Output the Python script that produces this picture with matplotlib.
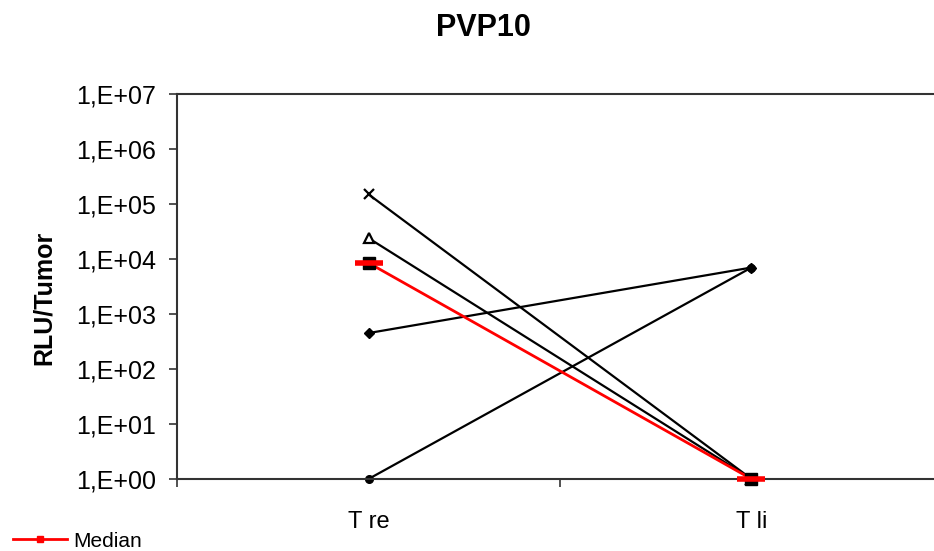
import matplotlib
matplotlib.use("Agg")
import matplotlib.pyplot as plt
from matplotlib.lines import Line2D

plt.rcParams['font.family'] = ['Liberation Sans', 'DejaVu Sans']

# Datos: RLU por tumor en las dos posiciones
categories = ["T re", "T li"]
cat_pos = [0.5, 1.5]
series_cross = [1.5e5, 1.0]
series_triangle = [2.4e4, 1.0]
series_diamond = [450, 7.0e3]
series_circle = [1.0, 7.0e3]
median = [8.5e3, 1.0]
ytick_vals = [1e0, 1e1, 1e2, 1e3, 1e4, 1e5, 1e6, 1e7]
ytick_labels = ["1,E+00", "1,E+01", "1,E+02", "1,E+03", "1,E+04", "1,E+05", "1,E+06", "1,E+07"]

fig = plt.figure(figsize=(9.34, 5.51), dpi=100)
W, H = 934.0, 551.0
left, right, top, bottom = 177, 943, 94, 479
ax = fig.add_axes([left / W, 1 - bottom / H, (right - left) / W, (bottom - top) / H])

ax.plot(cat_pos, series_cross, color='black', lw=1.6, marker='x', ms=7, mew=1.6, clip_on=False)
ax.plot(cat_pos, series_triangle, color='black', lw=1.6, marker='^', ms=7,
        mfc='white', mec='black', mew=1.6, clip_on=False)
ax.plot(cat_pos, series_diamond, color='black', lw=1.6, marker='D', ms=5, clip_on=False)
ax.plot(cat_pos, series_circle, color='black', lw=1.6, marker='o', ms=5.5, clip_on=False)
ax.plot(cat_pos, median, color='red', lw=2, marker='s', ms=9, mfc='black', mec='black',
        zorder=4, clip_on=False)
ax.plot(cat_pos, median, linestyle='none', marker='_', ms=20, mew=4, color='red', zorder=5,
        clip_on=False)

ax.set_yscale('log')
ax.set_ylim(1, 1e7)
ax.set_xlim(0, 2)
ax.set_yticks(ytick_vals)
ax.set_yticklabels(ytick_labels)
ax.minorticks_off()
ax.tick_params(axis='y', direction='out', length=6, width=1.2, pad=9, labelsize=18,
               colors='#333333', labelcolor='black')

# ticks between categories, labels at category centres
ax.set_xticks([0, 1, 2])
ax.set_xticklabels([])
ax.set_xticks(cat_pos, minor=True)
ax.set_xticklabels(categories, minor=True)
ax.tick_params(axis='x', which='major', direction='out', length=6, width=1.2, colors='#333333')
ax.tick_params(axis='x', which='minor', length=0, pad=23, labelsize=17)

for s in ['left', 'bottom', 'top']:
    ax.spines[s].set_color('#333333')
    ax.spines[s].set_linewidth(1.5)
ax.spines['right'].set_visible(False)

ax.set_ylabel("RLU/Tumor", fontsize=18, fontweight='bold')
ax.yaxis.set_label_coords(-0.158, 0.47)

fig.suptitle("PVP10", x=483 / W, y=1 - 28 / H, fontsize=22, fontweight='bold', va='center')

handle = Line2D([], [], color='red', lw=2, marker='s', ms=5, mfc='red', mec='red')
fig.legend([handle], ["Median"], loc='lower left', bbox_to_anchor=(0.0, -0.022),
           frameon=False, fontsize=15, handlelength=2.6, handletextpad=0.3,
           borderaxespad=0.2)

fig.savefig("out.png", dpi=100)
